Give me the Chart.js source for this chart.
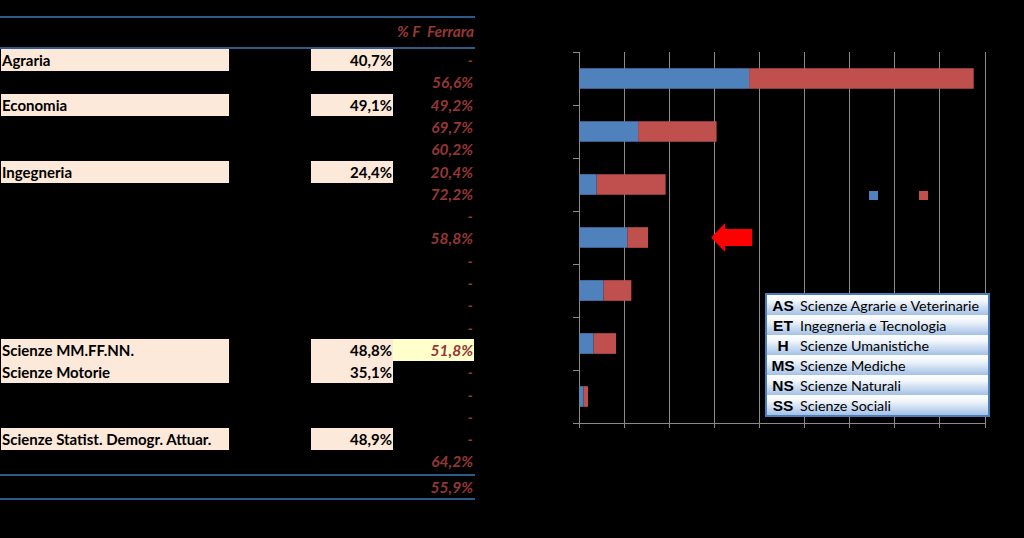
<!DOCTYPE html>
<html>
<head>
<meta charset="utf-8">
<script src="https://cdn.jsdelivr.net/npm/chart.js@4.4.0/dist/chart.umd.min.js"></script>
<style>
body { margin:0; background:#000; width:1024px; height:538px; overflow:hidden; position:relative; font-family: Lato, "Open Sans", sans-serif; }
.hline { position:absolute; left:0; width:475px; height:2px; background:#2e5a88; }
.cell { position:absolute; height:22px; line-height:23px; font-size:15px; font-weight:bold; white-space:nowrap; box-sizing:border-box; }
.name { left:1px; width:228px; background:#fde9d9; color:#000; padding-left:1px; }
.val { left:311px; width:82px; background:#fde9d9; color:#000; text-align:right; padding-right:1px; }
.fer { left:393px; width:81px; color:#953735; font-style:italic; text-align:right; padding-right:1px; font-size:15.5px; }
.fer.hl { background:#ffffcc; }
#head { position:absolute; top:22px; left:300px; width:174px; text-align:right; color:#953735; font-style:italic; font-weight:bold; font-size:15.5px; }
#wrap { position:absolute; left:540px; top:0; width:484px; height:538px; }
#codes { position:absolute; left:765px; top:293px; width:225px; border:2px solid #4a7ebb; box-sizing:border-box; background:#fff; }
#codes div { height:20px; line-height:22px; font-size:14.3px; color:#000; white-space:nowrap;
  background:linear-gradient(#ffffff 0%, #f2f6fb 30%, #a3c1e6 100%); }
#codes b { display:inline-block; width:30px; text-align:center; font-family:"Liberation Sans", Arial, sans-serif; font-size:15.5px; margin-left:1px; }
#codes span { margin-left:2px; }
.leg { position:absolute; top:191px; width:9px; height:9px; }
.legtxt { position:absolute; top:187px; font-size:12px; color:#000; }
</style>
</head>
<body>
<div id="table"></div>
<div id="head">% F&nbsp; Ferrara</div>
<div id="wrap"><canvas id="myChart" width="484" height="538"></canvas></div>
<div id="codes"></div>
<script>
// left table
let facolta = ['Agraria', '', 'Economia', '', '', 'Ingegneria', '', '', '', '', '', '', '',
  'Scienze MM.FF.NN.', 'Scienze Motorie', '', '', 'Scienze Statist. Demogr. Attuar.', '', '']
let percF = ['40,7%', '', '49,1%', '', '', '24,4%', '', '', '', '', '', '', '',
  '48,8%', '35,1%', '', '', '48,9%', '', '']
let percFerrara = ['-', '56,6%', '49,2%', '69,7%', '60,2%', '20,4%', '72,2%', '-', '58,8%', '-', '-', '-', '-',
  '51,8%', '-', '-', '-', '-', '64,2%', '55,9%']

// chart
let aree = ['AS', 'ET', 'H', 'MS', 'NS', 'SS', 'Altro']
let maschi = [37.7, 13.1, 3.9, 10.7, 5.4, 3.2, 1.0]
let femmine = [49.8, 17.4, 15.3, 4.6, 6.2, 5.0, 1.0]
let xTicks = [0, 10, 20, 30, 40, 50, 60, 70, 80, 90]

let codici = ['AS', 'ET', 'H', 'MS', 'NS', 'SS']
let descrizioni = ['Scienze Agrarie e Veterinarie', 'Ingegneria e Tecnologia', 'Scienze Umanistiche',
  'Scienze Mediche', 'Scienze Naturali', 'Scienze Sociali']

let arrowTip = { index: 3, value: 29.3 }

// build table
let table = document.getElementById('table')
let rowTop = 49, rowH = 22.3
for (let i = 0; i < facolta.length; i++) {
    let top = rowTop + i * rowH
    if (i == facolta.length - 1) top += 3
    if (facolta[i] != '') {
        table.insertAdjacentHTML('beforeend', '<div class="cell name" style="top:' + top + 'px">' + facolta[i] + '</div>')
        table.insertAdjacentHTML('beforeend', '<div class="cell val" style="top:' + top + 'px">' + percF[i] + '</div>')
    }
    let hl = percFerrara[i] == '51,8%' ? ' hl' : ''
    table.insertAdjacentHTML('beforeend', '<div class="cell fer' + hl + '" style="top:' + top + 'px">' + percFerrara[i] + '</div>')
}
for (let y of [16, 47, 474, 498]) {
    table.insertAdjacentHTML('beforeend', '<div class="hline" style="top:' + y + 'px"></div>')
}

// codes box
let codes = document.getElementById('codes')
for (let i = 0; i < codici.length; i++) {
    codes.insertAdjacentHTML('beforeend', '<div><b>' + codici[i] + '</b><span>' + descrizioni[i] + '</span></div>')
}

let arrowPlugin = {
    id: 'arrow',
    afterDatasetsDraw(chart) {
        let ctx = chart.ctx
        let tx = chart.scales.x.getPixelForValue(arrowTip.value)
        let ty = chart.scales.y.getPixelForValue(arrowTip.index)
        ctx.save()
        ctx.fillStyle = '#ff0000'
        ctx.beginPath()
        ctx.moveTo(tx, ty)
        ctx.lineTo(tx + 14, ty - 14.5)
        ctx.lineTo(tx + 14, ty - 8.5)
        ctx.lineTo(tx + 41, ty - 8.5)
        ctx.lineTo(tx + 41, ty + 8.5)
        ctx.lineTo(tx + 14, ty + 8.5)
        ctx.lineTo(tx + 14, ty + 14.5)
        ctx.closePath()
        ctx.fill()
        ctx.restore()
    }
}

let ctx = document.getElementById('myChart').getContext('2d')
let chart = new Chart(ctx, {
    type: 'bar',
    data: {
        labels: aree,
        datasets: [{
            label: 'M',
            backgroundColor: '#4f81bd',
            data: maschi,
        }, {
            label: 'F',
            backgroundColor: '#c0504d',
            data: femmine,
        }]
    },
    options: {
        indexAxis: 'y',
        responsive: false,
        animation: false,
        layout: { padding: { left: 0, right: 39, top: 52, bottom: 85 } },
        datasets: { bar: { categoryPercentage: 1, barPercentage: 0.39 } },
        plugins: { legend: { display: false }, tooltip: { enabled: false } },
        scales: {
            x: {
                stacked: true,
                min: 0, max: 90,
                afterBuildTicks: s => { s.ticks = xTicks.map(v => ({ value: v })) },
                afterFit: s => { s.height = 30 },
                grid: { color: '#8a8a8a', tickLength: 5, drawTicks: true },
                border: { color: '#8a8a8a' },
                ticks: { color: '#000' }
            },
            y: {
                stacked: true,
                afterFit: s => { s.width = 39 },
                grid: { drawOnChartArea: false, color: '#8a8a8a', tickLength: 6, offset: true },
                border: { color: '#8a8a8a' },
                ticks: { color: '#000' }
            }
        }
    },
    plugins: [arrowPlugin]
});

// legend from datasets
let legX = [869, 919]
chart.data.datasets.forEach((ds, i) => {
    document.body.insertAdjacentHTML('beforeend',
        '<div class="leg" style="left:' + legX[i] + 'px;background:' + ds.backgroundColor + '"></div>' +
        '<div class="legtxt" style="left:' + (legX[i] + 13) + 'px">' + ds.label + '</div>')
})
</script>
</body>
</html>
